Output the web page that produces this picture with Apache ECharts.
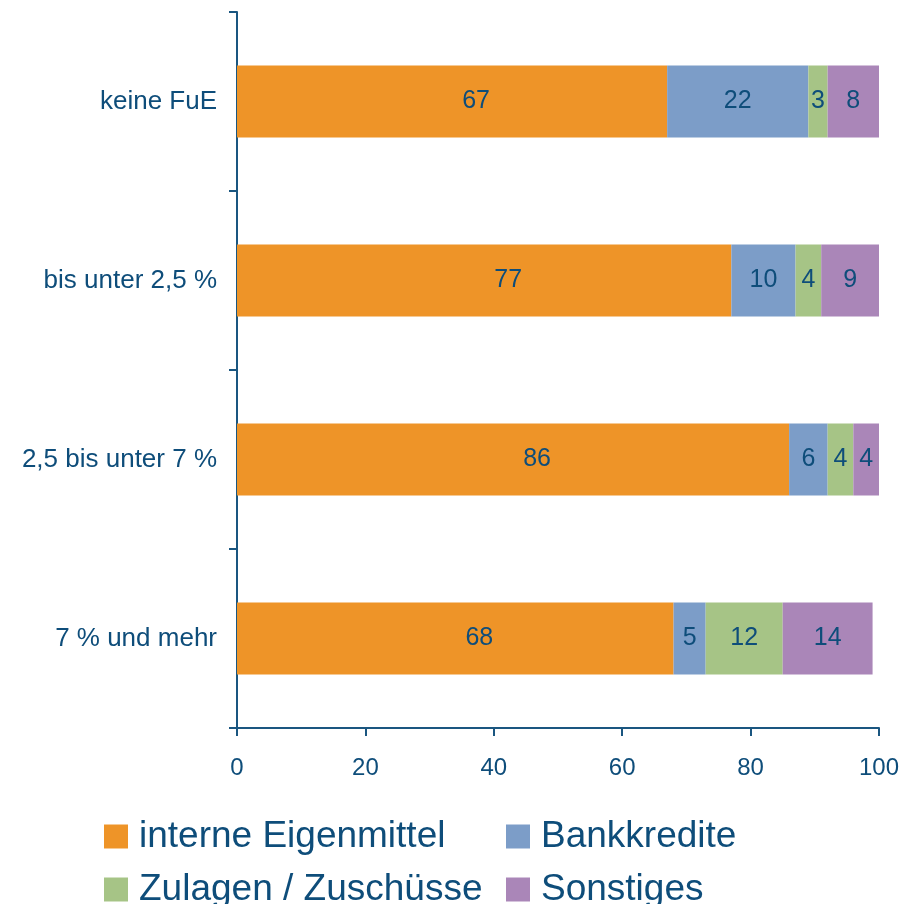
<!DOCTYPE html>
<html>
<head>
<meta charset="utf-8">
<script src="https://cdn.jsdelivr.net/npm/echarts@6/dist/echarts.min.js"></script>
<style>
  html, body { margin: 0; padding: 0; background: #fff; }
  #chart { width: 916px; height: 904px; }
</style>
</head>
<body>
<div id="chart"></div>
<script>
const categories = ['keine FuE', 'bis unter 2,5 %', '2,5 bis unter 7 %', '7 % und mehr'];
const seriesNames = ['interne Eigenmittel', 'Bankkredite', 'Zulagen / Zuschüsse', 'Sonstiges'];
const eigenmittel = [67, 77, 86, 68];
const bankkredite = [22, 10, 6, 5];
const zulagen = [3, 4, 4, 12];
const sonstiges = [8, 9, 4, 14];
const xTicks = [0, 20, 40, 60, 80, 100];

const textColor = '#0e4d7a';
const axisColor = '#1a5680';
const colors = ['#ee9428', '#7c9dc8', '#a6c486', '#aa86b8'];
const fontFamily = 'Liberation Sans, Arial, sans-serif';

const chart = echarts.init(document.getElementById('chart'));

// the first segment's labels sit a bit right of centre in the original
const makeSeries = (name, data, color, labelShift) => ({
  name,
  type: 'bar',
  stack: 'total',
  data,
  barWidth: 72,
  itemStyle: { color },
  label: {
    show: true,
    position: 'inside',
    offset: [labelShift || 0, 0],
    color: textColor,
    fontSize: 25,
    fontFamily,
  },
  emphasis: { disabled: true },
});

const legendPos = [
  { left: 104, top: 818 },
  { left: 506, top: 818 },
  { left: 104, top: 871 },
  { left: 506, top: 871 },
];

const option = {
  animation: false,
  backgroundColor: '#ffffff',
  color: colors,
  grid: {
    left: 237,
    right: 37,
    top: 12,
    bottom: 176,
  },
  legend: seriesNames.map((name, i) => ({
    data: [name],
    left: legendPos[i].left,
    top: legendPos[i].top,
    icon: 'rect',
    itemWidth: 24,
    itemHeight: 24,
    padding: 0,
    selectedMode: false,
    textStyle: {
      color: textColor,
      fontSize: 37,
      fontFamily,
      padding: [0, 0, 0, 6],
    },
  })),
  xAxis: {
    type: 'value',
    min: 0,
    max: 100,
    interval: 20,
    axisLine: { show: true, lineStyle: { color: axisColor, width: 2 } },
    axisTick: { show: true, length: 8, lineStyle: { color: axisColor, width: 2 } },
    axisLabel: {
      color: textColor,
      fontSize: 24,
      fontFamily,
      margin: 28,
      formatter: (v) => (xTicks.includes(v) ? String(v) : ''),
    },
    splitLine: { show: false },
  },
  yAxis: {
    type: 'category',
    data: categories,
    inverse: true,
    axisLine: { show: true, lineStyle: { color: axisColor, width: 2 } },
    axisTick: { show: true, length: 8, lineStyle: { color: axisColor, width: 2 } },
    axisLabel: {
      color: textColor,
      fontSize: 26,
      fontFamily,
      margin: 20,
    },
    splitLine: { show: false },
  },
  series: [
    makeSeries(seriesNames[0], eigenmittel, colors[0], 24),
    makeSeries(seriesNames[1], bankkredite, colors[1]),
    makeSeries(seriesNames[2], zulagen, colors[2]),
    makeSeries(seriesNames[3], sonstiges, colors[3]),
  ],
};

chart.setOption(option);
</script>
</body>
</html>
